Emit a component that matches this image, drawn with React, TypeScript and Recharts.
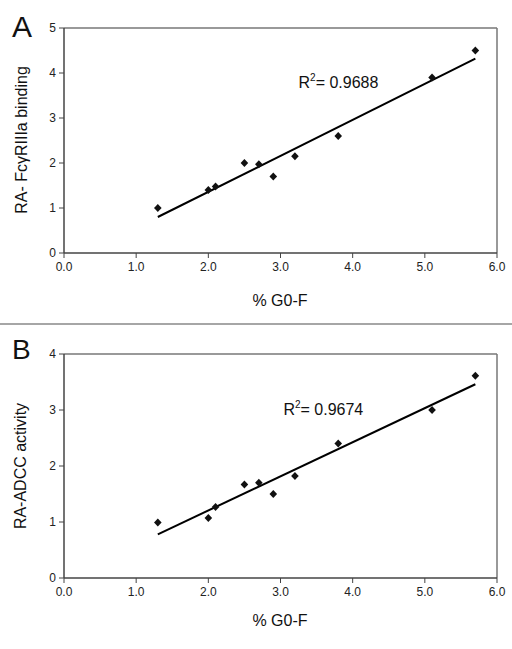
import { ScatterChart, Scatter, XAxis, YAxis, ReferenceLine, ReferenceDot } from 'recharts';

// % G0-F on the x axis, same samples in both panels
const G0F = [1.3, 2.0, 2.1, 2.5, 2.7, 2.9, 3.2, 3.8, 5.1, 5.7];
// Panel A: relative FcγRIIIa binding
const BINDING = [1.0, 1.4, 1.48, 2.0, 1.97, 1.7, 2.15, 2.6, 3.9, 4.5];
// Panel B: relative ADCC activity
const ADCC = [0.99, 1.07, 1.27, 1.67, 1.7, 1.5, 1.82, 2.4, 3.0, 3.61];

// linear fit end points
const TREND_A = [{ x: 1.3, y: 0.8 }, { x: 5.7, y: 4.32 }];
const TREND_B = [{ x: 1.3, y: 0.78 }, { x: 5.7, y: 3.46 }];

const X_TICKS = [0, 1, 2, 3, 4, 5, 6];
const Y_TICKS_A = [0, 1, 2, 3, 4, 5];
const Y_TICKS_B = [0, 1, 2, 3, 4];

const R2_A = '0.9688';
const R2_B = '0.9674';

const FONT = '"Liberation Sans", Arial, Helvetica, sans-serif';
const AXIS = '#444';
const FRAME = '#777';

const Diamond = (props: any) => {
  const { cx, cy } = props;
  return (
    <polygon
      points={`${cx},${cy - 4} ${cx + 3.8},${cy} ${cx},${cy + 4} ${cx - 3.8},${cy}`}
      fill="#111"
    />
  );
};

const R2Label = ({ viewBox, value }: any) => {
  const { cx, cy } = viewBox || {};
  const x = cx ?? viewBox.x;
  const y = cy ?? viewBox.y;
  return (
    <text x={x} y={y} fontSize={16} fill="#111" fontFamily={FONT}>
      <tspan>R</tspan>
      <tspan dy={-7} fontSize={10}>2</tspan>
      <tspan dy={7}>{`= ${value}`}</tspan>
    </text>
  );
};

interface PanelProps {
  xs: number[];
  ys: number[];
  trend: { x: number; y: number }[];
  yMax: number;
  yTicks: number[];
  r2: string;
  r2At: { x: number; y: number };
  height: number;
  margin: { top: number; right: number; bottom: number; left: number };
}

function Panel({ xs, ys, trend, yMax, yTicks, r2, r2At, height, margin }: PanelProps) {
  const points = xs.map((x, i) => ({ x, y: ys[i] }));
  return (
    <ScatterChart width={512} height={height} margin={margin}>
      <XAxis
        type="number"
        dataKey="x"
        domain={[0, 6]}
        ticks={X_TICKS}
        tickFormatter={(v: number) => v.toFixed(1)}
        height={40}
        tickSize={5}
        tickMargin={4}
        axisLine={{ stroke: AXIS, strokeWidth: 1.5 }}
        tickLine={{ stroke: AXIS }}
        tick={{ fill: '#222', fontSize: 12 }}
        allowDataOverflow
      />
      <YAxis
        type="number"
        dataKey="y"
        domain={[0, yMax]}
        ticks={yTicks}
        width={64}
        tickSize={5}
        tickMargin={3}
        axisLine={{ stroke: AXIS, strokeWidth: 1.5 }}
        tickLine={{ stroke: AXIS }}
        tick={{ fill: '#222', fontSize: 12 }}
        allowDataOverflow
      />
      <ReferenceLine y={yMax} stroke={FRAME} strokeWidth={1.5} />
      <ReferenceLine x={6} stroke={FRAME} strokeWidth={1.5} />
      <ReferenceLine segment={trend} stroke="#000" strokeWidth={2} ifOverflow="visible" />
      <Scatter data={points} shape={<Diamond />} isAnimationActive={false} />
      <ReferenceDot
        x={r2At.x}
        y={r2At.y}
        r={0}
        stroke="none"
        fill="none"
        label={<R2Label value={r2} />}
      />
    </ScatterChart>
  );
}

export default function App() {
  return (
    <div
      style={{
        position: 'absolute',
        left: 0,
        top: 0,
        width: 512,
        height: 649,
        background: '#fff',
        fontFamily: FONT,
      }}
    >
      <div style={{ position: 'absolute', left: 0, top: 0 }}>
        <Panel
          xs={G0F}
          ys={BINDING}
          trend={TREND_A}
          yMax={5}
          yTicks={Y_TICKS_A}
          r2={R2_A}
          r2At={{ x: 3.25, y: 3.67 }}
          height={320}
          margin={{ top: 28, right: 15, bottom: 27, left: 0 }}
        />
      </div>
      <div style={{ position: 'absolute', left: 0, top: 330 }}>
        <Panel
          xs={G0F}
          ys={ADCC}
          trend={TREND_B}
          yMax={4}
          yTicks={Y_TICKS_B}
          r2={R2_B}
          r2At={{ x: 3.04, y: 2.91 }}
          height={319}
          margin={{ top: 24, right: 15, bottom: 31, left: 0 }}
        />
      </div>
      {/* panel letters, axis titles and the divider */}
      <svg
        width={512}
        height={649}
        style={{ position: 'absolute', left: 0, top: 0, pointerEvents: 'none' }}
        fontFamily={FONT}
      >
        <text x={12} y={37} fontSize={30} fill="#111">A</text>
        <text x={12} y={359} fontSize={28} fill="#111">B</text>
        <line x1={0} x2={512} y1={324} y2={324} stroke="#888" strokeWidth={1.5} />
        <text x={280} y={306} fontSize={16} textAnchor="middle" fill="#111">% G0-F</text>
        <text x={280} y={626} fontSize={16} textAnchor="middle" fill="#111">% G0-F</text>
        <text
          x={27}
          y={140}
          fontSize={16}
          textAnchor="middle"
          fill="#111"
          transform="rotate(-90 27 140)"
        >
          RA- FcγRIIIa binding
        </text>
        <text
          x={26}
          y={466}
          fontSize={16}
          textAnchor="middle"
          fill="#111"
          transform="rotate(-90 26 466)"
        >
          RA-ADCC activity
        </text>
      </svg>
    </div>
  );
}
